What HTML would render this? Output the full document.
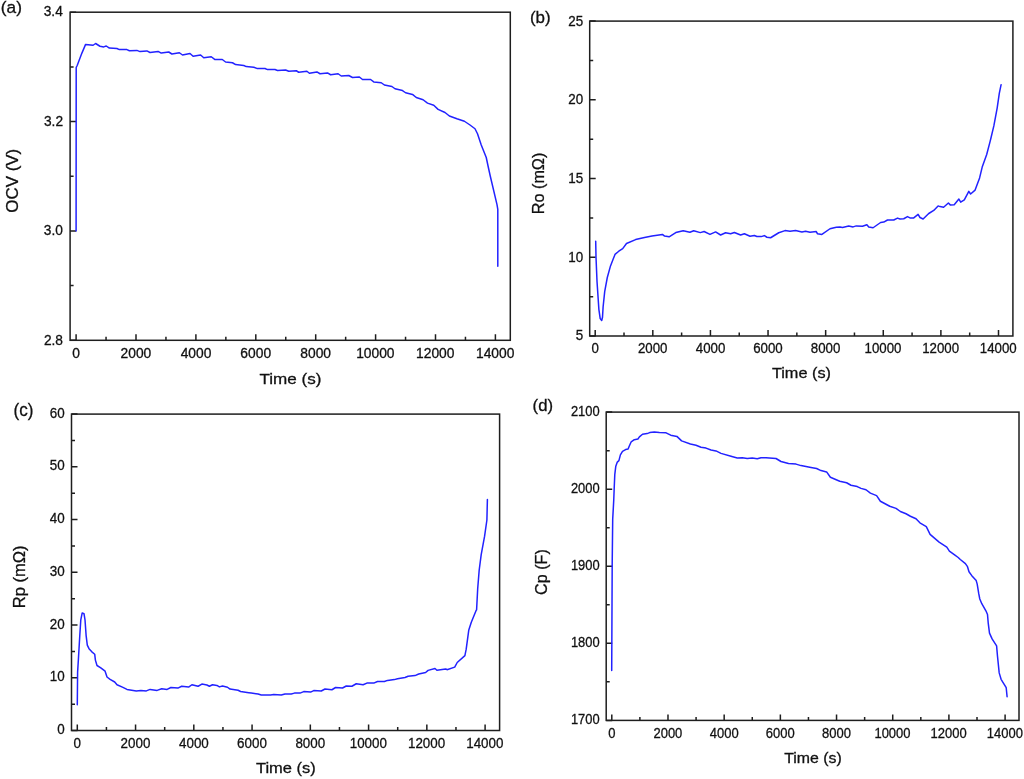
<!DOCTYPE html>
<html><head><meta charset="utf-8"><style>
html,body{margin:0;padding:0;background:#fff;}
svg{display:block;font-family:"Liberation Sans", sans-serif;will-change:transform;}
</style></head><body>
<svg width="1024" height="779" viewBox="0 0 1024 779">
<rect width="1024" height="779" fill="#fff"/>
<path d="M76.10 340.30V334.30M106.05 340.30V336.80M136.00 340.30V334.30M165.95 340.30V336.80M195.90 340.30V334.30M225.85 340.30V336.80M255.80 340.30V334.30M285.75 340.30V336.80M315.70 340.30V334.30M345.65 340.30V336.80M375.60 340.30V334.30M405.55 340.30V336.80M435.50 340.30V334.30M465.45 340.30V336.80M495.40 340.30V334.30M70.10 340.30H76.10M70.10 285.62H73.60M70.10 230.93H76.10M70.10 176.25H73.60M70.10 121.57H76.10M70.10 66.88H73.60M70.10 12.20H76.10" stroke="#1e1e1e" stroke-width="1.5" fill="none"/>
<rect x="70.10" y="12.20" width="440.20" height="328.10" stroke="#1e1e1e" stroke-width="1.5" fill="none"/>
<path d="M76.10 230.90 L76.20 67.50 L77.30 65.20 L81.90 53.10 L85.60 44.40 L93.10 45.25 L95.60 43.50 L100.00 46.25 L103.75 46.90 L106.25 46.00 L109.40 48.10 L116.90 48.50 L119.40 49.60 L126.90 49.60 L129.40 50.75 L136.90 50.40 L140.00 51.60 L146.90 50.90 L150.00 52.50 L158.10 51.40 L161.25 53.10 L168.75 52.00 L171.90 54.00 L179.40 52.75 L182.50 55.00 L190.00 53.50 L193.10 56.25 L200.60 55.00 L203.75 57.75 L211.25 56.75 L215.00 59.60 L222.25 59.50 L225.60 62.00 L232.50 62.75 L235.60 64.60 L243.75 65.50 L246.25 66.60 L253.75 67.25 L256.90 68.40 L265.00 68.50 L267.50 69.60 L275.00 69.50 L277.50 70.50 L285.60 70.00 L288.75 71.25 L296.25 70.75 L298.75 72.25 L306.90 71.25 L309.40 73.25 L316.90 71.90 L320.00 73.75 L327.50 72.90 L330.60 74.75 L338.10 73.75 L341.25 76.00 L348.75 75.50 L352.50 77.50 L359.40 77.00 L362.50 79.50 L370.60 79.50 L373.75 81.90 L381.25 82.75 L384.40 85.00 L391.90 86.50 L395.00 88.75 L402.50 90.60 L405.60 92.75 L412.50 94.40 L416.25 97.50 L423.10 99.75 L427.50 103.10 L433.75 105.25 L438.10 109.40 L445.00 112.50 L449.40 116.00 L456.90 118.75 L464.40 121.25 L470.00 125.00 L475.00 128.75 L477.50 133.75 L481.25 145.00 L486.25 157.50 L488.10 166.25 L490.25 176.00 L497.00 204.70 L497.80 209.30 L497.80 266.30" stroke="#2222ff" stroke-width="1.5" fill="none" stroke-linejoin="round" stroke-linecap="round"/>
<text transform="translate(72.26,357.90) scale(1.0000,1)" font-size="13.80" fill="#111" stroke="#111" stroke-width="0.3">0</text>
<text transform="translate(120.57,357.90) scale(1.0000,1)" font-size="13.80" fill="#111" stroke="#111" stroke-width="0.3">2000</text>
<text transform="translate(180.66,357.90) scale(1.0000,1)" font-size="13.80" fill="#111" stroke="#111" stroke-width="0.3">4000</text>
<text transform="translate(240.37,357.90) scale(1.0000,1)" font-size="13.80" fill="#111" stroke="#111" stroke-width="0.3">6000</text>
<text transform="translate(300.32,357.90) scale(1.0000,1)" font-size="13.80" fill="#111" stroke="#111" stroke-width="0.3">8000</text>
<text transform="translate(356.16,357.90) scale(1.0000,1)" font-size="13.80" fill="#111" stroke="#111" stroke-width="0.3">10000</text>
<text transform="translate(416.06,357.90) scale(1.0000,1)" font-size="13.80" fill="#111" stroke="#111" stroke-width="0.3">12000</text>
<text transform="translate(475.96,357.90) scale(1.0000,1)" font-size="13.80" fill="#111" stroke="#111" stroke-width="0.3">14000</text>
<text transform="translate(43.88,344.50) scale(0.9217,1)" font-size="14.92" fill="#111" stroke="#111" stroke-width="0.3">2.8</text>
<text transform="translate(43.82,235.13) scale(0.9217,1)" font-size="14.92" fill="#111" stroke="#111" stroke-width="0.3">3.0</text>
<text transform="translate(43.98,125.77) scale(0.9217,1)" font-size="14.92" fill="#111" stroke="#111" stroke-width="0.3">3.2</text>
<text transform="translate(43.69,16.40) scale(0.9217,1)" font-size="14.92" fill="#111" stroke="#111" stroke-width="0.3">3.4</text>
<text transform="translate(0.83,12.60) scale(1.0059,1)" font-size="17.20" fill="#111" stroke="#111" stroke-width="0.3">(a)</text>
<text transform="translate(259.52,384.00) scale(1.1152,1)" font-size="15.32" fill="#111" stroke="#111" stroke-width="0.3">Time (s)</text>
<text transform="translate(18.30,212.70) rotate(-90) scale(1.0076,1)" font-size="16.80" fill="#111" stroke="#111" stroke-width="0.3">OCV (V)</text>
<path d="M595.20 336.00V330.00M624.01 336.00V332.50M652.81 336.00V330.00M681.62 336.00V332.50M710.43 336.00V330.00M739.24 336.00V332.50M768.04 336.00V330.00M796.85 336.00V332.50M825.66 336.00V330.00M854.46 336.00V332.50M883.27 336.00V330.00M912.08 336.00V332.50M940.89 336.00V330.00M969.69 336.00V332.50M998.50 336.00V330.00M589.70 336.00H595.70M589.70 296.64H593.20M589.70 257.28H595.70M589.70 217.91H593.20M589.70 178.55H595.70M589.70 139.19H593.20M589.70 99.82H595.70M589.70 60.46H593.20M589.70 21.10H595.70" stroke="#1e1e1e" stroke-width="1.5" fill="none"/>
<rect x="589.70" y="21.10" width="423.20" height="314.90" stroke="#1e1e1e" stroke-width="1.5" fill="none"/>
<path d="M595.70 241.30 L596.00 257.00 L597.00 281.30 L598.90 309.60 L600.20 318.60 L601.70 320.50 L602.50 317.30 L603.10 307.00 L604.70 291.60 L607.30 277.50 L610.50 265.90 L613.00 259.50 L615.00 254.40 L618.80 251.20 L622.70 248.60 L626.50 243.50 L635.60 239.60 L644.50 237.40 L652.00 235.90 L662.40 234.40 L664.60 236.10 L669.10 236.80 L675.80 232.60 L683.20 230.70 L689.90 232.20 L693.70 230.70 L700.30 232.60 L704.10 231.50 L710.00 234.40 L715.60 231.90 L720.60 235.00 L725.60 232.75 L730.60 233.75 L734.40 232.50 L740.60 235.00 L744.40 233.75 L750.00 236.25 L754.40 235.50 L756.90 236.50 L761.25 236.60 L764.40 235.60 L766.90 237.25 L770.60 237.75 L778.75 232.75 L785.00 230.60 L790.00 231.25 L795.60 230.60 L801.90 231.90 L805.60 231.25 L810.00 232.25 L816.25 231.60 L817.50 233.75 L821.90 234.40 L830.00 228.75 L836.25 227.25 L840.00 226.90 L842.50 227.50 L848.75 226.00 L853.10 226.90 L856.25 225.90 L862.50 226.25 L866.90 224.75 L868.75 226.90 L873.10 227.75 L880.60 222.50 L883.75 222.10 L887.50 220.00 L893.75 220.00 L897.50 218.10 L900.00 219.00 L903.75 218.75 L907.50 216.60 L910.00 217.90 L913.75 217.90 L918.10 214.40 L920.00 217.50 L923.10 219.00 L928.75 213.50 L933.75 210.40 L938.10 205.90 L940.00 206.60 L943.60 207.30 L948.40 203.00 L950.50 205.10 L954.20 204.80 L958.90 199.10 L960.70 202.10 L964.30 199.80 L968.80 191.30 L970.60 194.00 L975.10 190.10 L979.60 177.90 L982.20 167.10 L986.70 154.50 L990.00 141.90 L990.90 138.30 L993.90 125.70 L997.20 107.80 L999.30 93.40 L1001.10 84.70" stroke="#2222ff" stroke-width="1.5" fill="none" stroke-linejoin="round" stroke-linecap="round"/>
<text transform="translate(591.50,353.20) scale(0.8696,1)" font-size="15.29" fill="#111" stroke="#111" stroke-width="0.3">0</text>
<text transform="translate(637.95,353.20) scale(0.8696,1)" font-size="15.29" fill="#111" stroke="#111" stroke-width="0.3">2000</text>
<text transform="translate(695.74,353.20) scale(0.8696,1)" font-size="15.29" fill="#111" stroke="#111" stroke-width="0.3">4000</text>
<text transform="translate(753.17,353.20) scale(0.8696,1)" font-size="15.29" fill="#111" stroke="#111" stroke-width="0.3">6000</text>
<text transform="translate(810.83,353.20) scale(0.8696,1)" font-size="15.29" fill="#111" stroke="#111" stroke-width="0.3">8000</text>
<text transform="translate(864.53,353.20) scale(0.8696,1)" font-size="15.29" fill="#111" stroke="#111" stroke-width="0.3">10000</text>
<text transform="translate(922.15,353.20) scale(0.8696,1)" font-size="15.29" fill="#111" stroke="#111" stroke-width="0.3">12000</text>
<text transform="translate(979.76,353.20) scale(0.8696,1)" font-size="15.29" fill="#111" stroke="#111" stroke-width="0.3">14000</text>
<text transform="translate(575.81,340.48) scale(0.8929,1)" font-size="15.01" fill="#111" stroke="#111" stroke-width="0.3">5</text>
<text transform="translate(568.32,261.76) scale(0.8929,1)" font-size="15.01" fill="#111" stroke="#111" stroke-width="0.3">10</text>
<text transform="translate(568.36,183.03) scale(0.8929,1)" font-size="15.01" fill="#111" stroke="#111" stroke-width="0.3">15</text>
<text transform="translate(568.32,104.30) scale(0.8929,1)" font-size="15.01" fill="#111" stroke="#111" stroke-width="0.3">20</text>
<text transform="translate(568.36,25.58) scale(0.8929,1)" font-size="15.01" fill="#111" stroke="#111" stroke-width="0.3">25</text>
<text transform="translate(529.95,23.00) scale(0.9788,1)" font-size="17.30" fill="#111" stroke="#111" stroke-width="0.3">(b)</text>
<text transform="translate(771.93,378.40) scale(1.0960,1)" font-size="14.85" fill="#111" stroke="#111" stroke-width="0.3">Time (s)</text>
<text transform="translate(543.60,214.13) rotate(-90) scale(0.9747,1)" font-size="16.60" fill="#111" stroke="#111" stroke-width="0.3">Ro (mΩ)</text>
<path d="M77.30 730.50V724.50M106.43 730.50V727.00M135.56 730.50V724.50M164.69 730.50V727.00M193.81 730.50V724.50M222.94 730.50V727.00M252.07 730.50V724.50M281.20 730.50V727.00M310.33 730.50V724.50M339.46 730.50V727.00M368.59 730.50V724.50M397.71 730.50V727.00M426.84 730.50V724.50M455.97 730.50V727.00M485.10 730.50V724.50M71.50 730.50H77.50M71.50 704.13H75.00M71.50 677.77H77.50M71.50 651.40H75.00M71.50 625.03H77.50M71.50 598.67H75.00M71.50 572.30H77.50M71.50 545.93H75.00M71.50 519.57H77.50M71.50 493.20H75.00M71.50 466.83H77.50M71.50 440.47H75.00M71.50 414.10H77.50" stroke="#1e1e1e" stroke-width="1.5" fill="none"/>
<rect x="71.50" y="414.10" width="428.10" height="316.40" stroke="#1e1e1e" stroke-width="1.5" fill="none"/>
<path d="M77.30 704.80 L77.60 672.40 L78.40 659.30 L79.80 635.30 L80.80 619.80 L82.20 612.90 L84.00 613.70 L85.00 619.80 L86.10 635.30 L87.30 645.20 L89.00 648.70 L91.60 651.60 L94.70 654.20 L95.40 660.10 L97.00 665.50 L100.80 667.80 L105.10 671.20 L107.00 677.00 L110.10 679.40 L114.70 682.00 L117.00 684.70 L122.40 687.10 L127.00 689.40 L136.30 690.90 L140.90 690.40 L146.30 690.90 L150.10 689.40 L157.10 690.40 L161.70 688.80 L167.10 689.40 L170.90 687.50 L177.90 688.10 L181.70 686.30 L188.60 687.10 L191.90 684.75 L198.10 686.25 L201.90 684.10 L206.90 685.00 L209.40 686.25 L212.50 684.75 L216.90 685.40 L219.40 686.90 L222.50 686.00 L227.50 687.25 L230.00 689.10 L238.10 690.25 L240.60 691.50 L248.75 692.75 L251.25 693.10 L258.10 694.00 L261.25 695.00 L270.60 695.10 L273.75 694.60 L281.25 695.00 L285.00 694.00 L291.25 694.00 L294.40 693.10 L300.00 693.10 L303.75 691.60 L310.60 692.10 L313.75 690.60 L321.25 691.00 L325.00 689.00 L331.90 689.75 L335.60 687.50 L342.50 688.00 L346.25 686.00 L351.90 686.25 L356.25 683.75 L363.10 684.75 L366.90 683.10 L373.75 683.10 L377.50 681.50 L384.40 681.50 L387.50 680.40 L394.40 679.60 L397.50 678.75 L405.00 677.50 L408.10 676.25 L415.00 675.60 L418.75 674.00 L425.60 672.50 L428.10 670.40 L435.00 668.50 L436.90 670.20 L445.70 668.90 L447.00 669.70 L454.70 667.10 L457.20 662.50 L464.90 655.60 L466.20 649.20 L468.80 629.90 L471.30 622.20 L476.00 610.70 L476.60 609.80 L477.70 588.50 L479.20 570.00 L481.20 554.60 L484.60 536.20 L486.90 520.00 L487.40 499.50" stroke="#2222ff" stroke-width="1.5" fill="none" stroke-linejoin="round" stroke-linecap="round"/>
<text transform="translate(73.57,747.80) scale(0.8850,1)" font-size="15.14" fill="#111" stroke="#111" stroke-width="0.3">0</text>
<text transform="translate(120.58,747.80) scale(0.8850,1)" font-size="15.14" fill="#111" stroke="#111" stroke-width="0.3">2000</text>
<text transform="translate(179.02,747.80) scale(0.8850,1)" font-size="15.14" fill="#111" stroke="#111" stroke-width="0.3">4000</text>
<text transform="translate(237.09,747.80) scale(0.8850,1)" font-size="15.14" fill="#111" stroke="#111" stroke-width="0.3">6000</text>
<text transform="translate(295.39,747.80) scale(0.8850,1)" font-size="15.14" fill="#111" stroke="#111" stroke-width="0.3">8000</text>
<text transform="translate(349.71,747.80) scale(0.8850,1)" font-size="15.14" fill="#111" stroke="#111" stroke-width="0.3">10000</text>
<text transform="translate(407.96,747.80) scale(0.8850,1)" font-size="15.14" fill="#111" stroke="#111" stroke-width="0.3">12000</text>
<text transform="translate(466.22,747.80) scale(0.8850,1)" font-size="15.14" fill="#111" stroke="#111" stroke-width="0.3">14000</text>
<text transform="translate(57.27,734.15) scale(0.8696,1)" font-size="15.41" fill="#111" stroke="#111" stroke-width="0.3">0</text>
<text transform="translate(49.82,681.42) scale(0.8696,1)" font-size="15.41" fill="#111" stroke="#111" stroke-width="0.3">10</text>
<text transform="translate(49.82,628.68) scale(0.8696,1)" font-size="15.41" fill="#111" stroke="#111" stroke-width="0.3">20</text>
<text transform="translate(49.82,575.95) scale(0.8696,1)" font-size="15.41" fill="#111" stroke="#111" stroke-width="0.3">30</text>
<text transform="translate(49.82,523.22) scale(0.8696,1)" font-size="15.41" fill="#111" stroke="#111" stroke-width="0.3">40</text>
<text transform="translate(49.82,470.48) scale(0.8696,1)" font-size="15.41" fill="#111" stroke="#111" stroke-width="0.3">50</text>
<text transform="translate(49.82,417.75) scale(0.8696,1)" font-size="15.41" fill="#111" stroke="#111" stroke-width="0.3">60</text>
<text transform="translate(13.54,416.30) scale(0.9282,1)" font-size="18.40" fill="#111" stroke="#111" stroke-width="0.3">(c)</text>
<text transform="translate(255.93,773.20) scale(1.0972,1)" font-size="15.04" fill="#111" stroke="#111" stroke-width="0.3">Time (s)</text>
<text transform="translate(24.80,608.25) rotate(-90) scale(0.9711,1)" font-size="17.00" fill="#111" stroke="#111" stroke-width="0.3">Rp (mΩ)</text>
<path d="M611.80 720.40V714.40M639.89 720.40V716.90M667.99 720.40V714.40M696.08 720.40V716.90M724.17 720.40V714.40M752.26 720.40V716.90M780.36 720.40V714.40M808.45 720.40V716.90M836.54 720.40V714.40M864.64 720.40V716.90M892.73 720.40V714.40M920.82 720.40V716.90M948.91 720.40V714.40M977.01 720.40V716.90M1005.10 720.40V714.40M606.20 720.40H612.20M606.20 681.86H609.70M606.20 643.33H612.20M606.20 604.79H609.70M606.20 566.25H612.20M606.20 527.71H609.70M606.20 489.18H612.20M606.20 450.64H609.70M606.20 412.10H612.20" stroke="#1e1e1e" stroke-width="1.5" fill="none"/>
<rect x="606.20" y="412.10" width="412.80" height="308.30" stroke="#1e1e1e" stroke-width="1.5" fill="none"/>
<path d="M611.70 670.50 L612.20 563.20 L612.70 519.30 L613.75 500.00 L614.30 485.70 L614.80 474.40 L615.80 466.20 L617.30 462.10 L618.90 460.60 L620.40 454.90 L622.50 451.30 L625.60 449.60 L628.10 449.10 L629.20 446.20 L631.20 441.80 L634.30 439.70 L637.90 439.00 L639.40 436.90 L642.50 434.20 L647.10 433.60 L649.70 432.60 L654.30 432.10 L659.40 432.50 L666.10 432.80 L670.70 435.20 L676.90 436.40 L681.60 440.90 L690.40 444.00 L696.00 445.25 L701.00 447.25 L706.00 448.10 L711.00 450.00 L716.00 450.90 L721.00 453.40 L731.00 456.25 L737.25 457.90 L742.25 457.75 L747.25 458.50 L752.25 458.10 L757.25 458.75 L761.00 457.75 L766.00 457.75 L776.00 458.50 L781.00 461.50 L788.50 463.50 L796.00 464.10 L801.00 465.60 L811.00 467.50 L816.60 468.50 L821.00 470.60 L826.60 471.90 L830.40 477.25 L839.75 481.25 L846.60 482.75 L851.00 485.25 L857.25 486.60 L861.00 488.40 L866.00 489.75 L870.40 493.10 L876.60 495.60 L880.40 501.25 L889.75 506.25 L896.00 508.40 L900.40 511.50 L906.00 513.75 L910.40 516.25 L916.00 518.75 L919.90 522.80 L926.30 526.70 L930.10 534.40 L939.10 542.10 L946.80 547.20 L949.40 551.10 L954.60 554.90 L958.20 557.50 L960.30 559.50 L965.40 563.60 L967.50 566.70 L969.00 571.80 L971.60 575.40 L976.20 580.60 L977.20 584.10 L978.70 593.40 L979.80 599.00 L981.80 603.70 L985.90 610.80 L987.50 614.50 L988.20 622.80 L989.50 633.10 L992.10 638.90 L996.60 645.90 L997.50 656.20 L999.20 672.90 L1001.10 679.30 L1006.20 687.70 L1007.10 696.70" stroke="#2222ff" stroke-width="1.5" fill="none" stroke-linejoin="round" stroke-linecap="round"/>
<text transform="translate(608.19,738.20) scale(0.9009,1)" font-size="14.43" fill="#111" stroke="#111" stroke-width="0.3">0</text>
<text transform="translate(653.45,738.20) scale(0.9009,1)" font-size="14.43" fill="#111" stroke="#111" stroke-width="0.3">2000</text>
<text transform="translate(709.82,738.20) scale(0.9009,1)" font-size="14.43" fill="#111" stroke="#111" stroke-width="0.3">4000</text>
<text transform="translate(765.82,738.20) scale(0.9009,1)" font-size="14.43" fill="#111" stroke="#111" stroke-width="0.3">6000</text>
<text transform="translate(822.05,738.20) scale(0.9009,1)" font-size="14.43" fill="#111" stroke="#111" stroke-width="0.3">8000</text>
<text transform="translate(874.41,738.20) scale(0.9009,1)" font-size="14.43" fill="#111" stroke="#111" stroke-width="0.3">10000</text>
<text transform="translate(930.60,738.20) scale(0.9009,1)" font-size="14.43" fill="#111" stroke="#111" stroke-width="0.3">12000</text>
<text transform="translate(986.78,738.20) scale(0.9009,1)" font-size="14.43" fill="#111" stroke="#111" stroke-width="0.3">14000</text>
<text transform="translate(570.91,724.20) scale(0.8850,1)" font-size="14.58" fill="#111" stroke="#111" stroke-width="0.3">1700</text>
<text transform="translate(570.91,647.12) scale(0.8850,1)" font-size="14.58" fill="#111" stroke="#111" stroke-width="0.3">1800</text>
<text transform="translate(570.91,570.05) scale(0.8850,1)" font-size="14.58" fill="#111" stroke="#111" stroke-width="0.3">1900</text>
<text transform="translate(570.91,492.98) scale(0.8850,1)" font-size="14.58" fill="#111" stroke="#111" stroke-width="0.3">2000</text>
<text transform="translate(570.91,415.90) scale(0.8850,1)" font-size="14.58" fill="#111" stroke="#111" stroke-width="0.3">2100</text>
<text transform="translate(532.56,411.00) scale(0.9896,1)" font-size="16.93" fill="#111" stroke="#111" stroke-width="0.3">(d)</text>
<text transform="translate(784.14,762.60) scale(1.0834,1)" font-size="14.66" fill="#111" stroke="#111" stroke-width="0.3">Time (s)</text>
<text transform="translate(547.30,594.92) rotate(-90) scale(0.9722,1)" font-size="16.60" fill="#111" stroke="#111" stroke-width="0.3">Cp (F)</text>
</svg>
</body></html>
